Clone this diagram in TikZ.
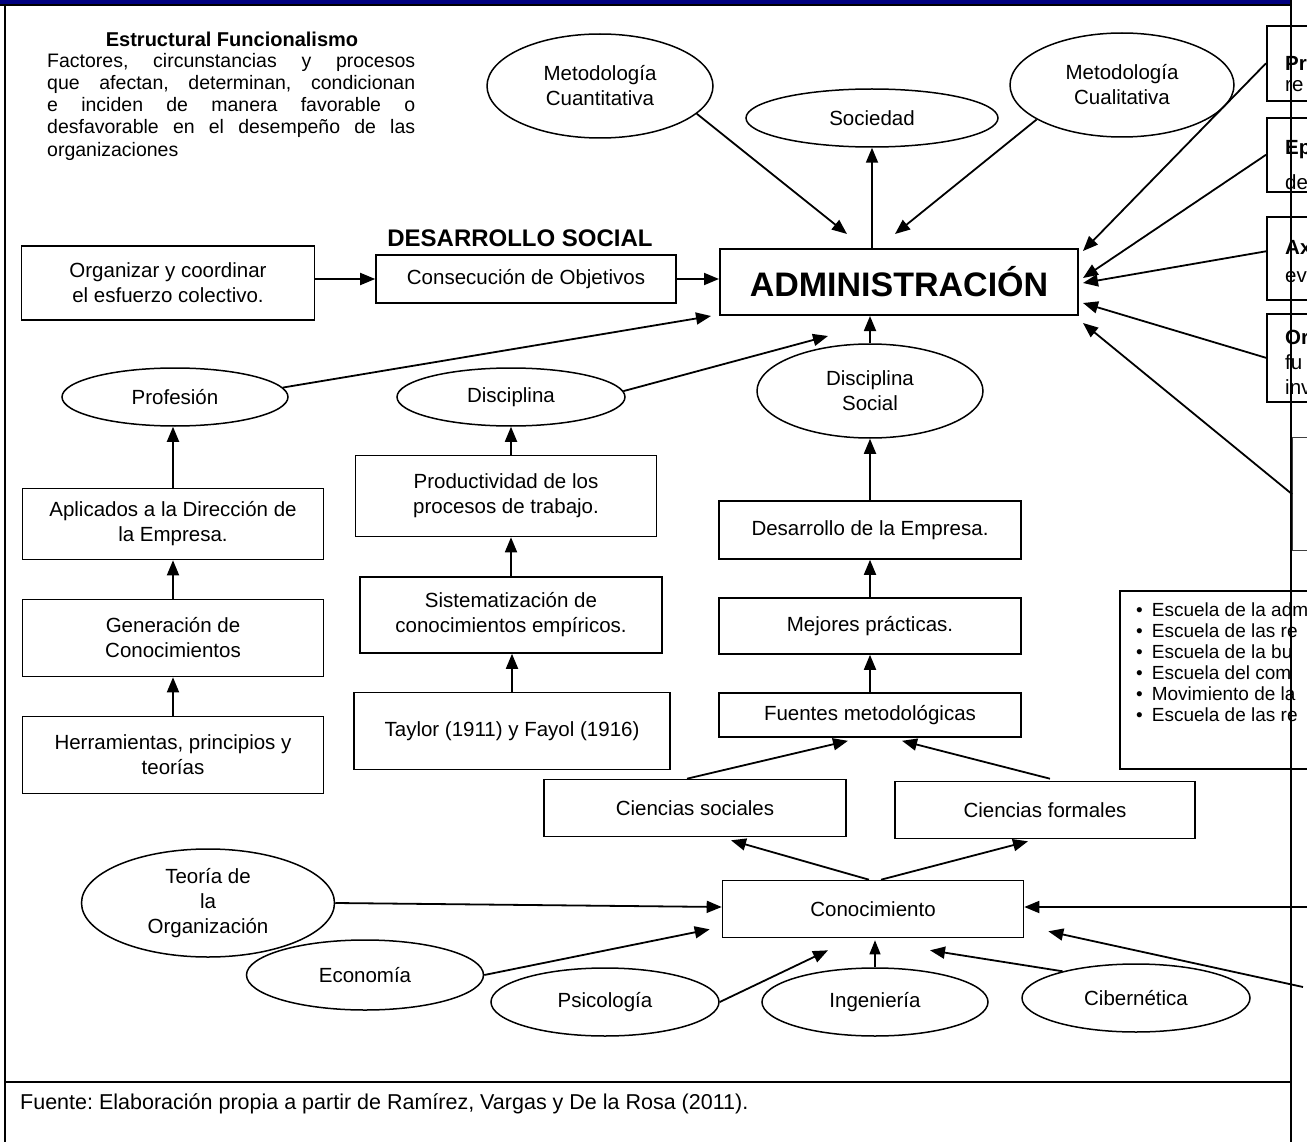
\documentclass[tikz,border=0pt]{standalone}
\usepackage{fontspec}
\setmainfont{Liberation Sans}
\usetikzlibrary{arrows.meta,shapes.geometric,calc}
\definecolor{barnavy}{RGB}{0,0,128}
\newcommand\fsmain{\fontsize{20.5}{25}\selectfont}
\newcommand\fslist{\fontsize{19}{22}\selectfont}
\newcommand\fspar{\fontsize{19.5}{22.2}\selectfont}
\newcommand\jline[1]{\makebox[368pt][s]{#1}}
\begin{document}
\frenchspacing
\begin{tikzpicture}[x=1pt,y=-1pt,
  box/.style={draw, line width=1.6pt, align=center, font=\fsmain, inner sep=2pt},
  oval/.style={draw, ellipse, line width=1.5pt, align=center, font=\fsmain, inner sep=0pt},
  panel/.style={draw, line width=1.6pt, inner sep=0pt, anchor=north west},
  lbl/.style={anchor=west, font=\fsmain, inner sep=0pt},
  item/.style={anchor=west, font=\fslist, inner sep=0pt},
  arr/.style={line width=1.8pt, -{Triangle[length=15pt,width=12pt]}},
  thinarr/.style={line width=1.1pt, -{Triangle[length=14pt,width=11pt]}},
  frame/.style={line width=2.2pt}]
\useasboundingbox (0,0) rectangle (1307,1142);
\clip (0,0) rectangle (1307,1142);

% ---- heading block, top left
\node[font=\bfseries\fontsize{20}{24}\selectfont, inner sep=0pt] (ttl) at (232,39) {Estructural Funcionalismo};
\node[anchor=north west, font=\fspar, align=left, inner sep=0pt] (par) at (47,53)
  {\jline{Factores, circunstancias y procesos}\\
   \jline{que afectan, determinan, condicionan}\\
   \jline{e inciden de manera favorable o}\\
   \jline{desfavorable en el desempeño de las}\\
   organizaciones};
\node[font=\bfseries\fontsize{24}{28}\selectfont, inner sep=0pt] (des) at (520,238) {DESARROLLO SOCIAL};

% ---- central node
\node[box, line width=2pt, minimum width=358, minimum height=66, font=\bfseries\fontsize{34}{40}\selectfont] (adm) at (899,282) {ADMINISTRACIÓN};

% ---- upper ellipses
\node[oval, minimum width=226, minimum height=104] (mcuant) at (600,86) {Metodología\\Cuantitativa};
\node[oval, minimum width=252, minimum height=58] (soc) at (872,118) {Sociedad};
\node[oval, minimum width=224, minimum height=104] (mcual) at (1122,85) {Metodología\\Cualitativa};

% ---- left chain
\node[box, minimum width=293, minimum height=74] (org) at (168,283) {Organizar y coordinar\\el esfuerzo colectivo.};
\node[box, minimum width=300, minimum height=48] (cons) at (526,279) {Consecución de Objetivos};
\node[oval, minimum width=226, minimum height=58] (prof) at (175,397) {Profesión};
\node[oval, minimum width=228, minimum height=58] (disc) at (511,397) {Disciplina};
\node[oval, minimum width=226, minimum height=94] (dsoc) at (870,391) {Disciplina\\Social};

\node[box, minimum width=301, minimum height=71] (apl) at (173,524) {Aplicados a la Dirección de\\la Empresa.};
\node[box, minimum width=301, minimum height=77] (gen) at (173,638) {Generación de\\Conocimientos};
\node[box, minimum width=301, minimum height=77] (her) at (173,755) {Herramientas, principios y\\teorías};

\node[box, minimum width=301, minimum height=81] (prod) at (506,496) {Productividad de los\\procesos de trabajo.};
\node[box, minimum width=302, minimum height=76] (sist) at (511,615) {Sistematización de\\conocimientos empíricos.};
\node[box, minimum width=316, minimum height=77] (tay) at (512,731) {Taylor (1911) y Fayol (1916)};

\node[box, minimum width=302, minimum height=58] (desa) at (870,530) {Desarrollo de la Empresa.};
\node[box, minimum width=302, minimum height=56] (mej) at (870,626) {Mejores prácticas.};
\node[box, minimum width=302, minimum height=44] (fue) at (870,715) {Fuentes metodológicas};

\node[box, minimum width=302, minimum height=57] (csoc) at (695,808) {Ciencias sociales};
\node[box, minimum width=300, minimum height=57] (cfor) at (1045,810) {Ciencias formales};
\node[box, minimum width=301, minimum height=57] (con) at (873,909) {Conocimiento};

% ---- lower ellipses
\node[oval, minimum width=253, minimum height=108] (teo) at (208,903) {Teoría de\\la\\Organización};
\node[oval, minimum width=237, minimum height=70] (eco) at (365,975) {Economía};
\node[oval, minimum width=228, minimum height=68] (psi) at (605,1002) {Psicología};
\node[oval, minimum width=226, minimum height=68] (ing) at (875,1002) {Ingeniería};
\node[oval, minimum width=228, minimum height=68] (cib) at (1136,998) {Cibernética};

% ---- panels running off the right edge
\node[panel, minimum width=160, minimum height=75] (prb) at (1266,25) {};
\node[panel, minimum width=160, minimum height=74] (epb) at (1266,117) {};
\node[panel, minimum width=160, minimum height=83] (axb) at (1266,216) {};
\node[panel, minimum width=160, minimum height=88] (orb) at (1266,313) {};
\node[panel, line width=1.2pt, draw=black!75, minimum width=160, minimum height=113] (bfive) at (1292,437) {};
\node[lbl] (prt) at (1285,63) {\textbf{Pr}};
\node[lbl] (prs) at (1285,86) {re};
\node[lbl] (ept) at (1285,150) {\textbf{Ep}};
\node[lbl] (eps) at (1285,182) {de};
\node[lbl] (axt) at (1285,247) {\textbf{Ax}};
\node[lbl] (axs) at (1285,277) {ev};
\node[lbl] (ort) at (1285,337) {\textbf{Or}};
\node[lbl] (ors) at (1285,362) {fu};
\node[lbl] (orv) at (1285,387) {inv};

\node[panel, minimum width=220, minimum height=178] (esc) at (1119,590) {};
\node[item] (e1) at (1136,610) {\textbullet\hspace{9pt}Escuela de la adm};
\node[item] (e2) at (1136,631) {\textbullet\hspace{9pt}Escuela de las re};
\node[item] (e3) at (1136,652) {\textbullet\hspace{9pt}Escuela de la bu};
\node[item] (e4) at (1136,673) {\textbullet\hspace{9pt}Escuela del com};
\node[item] (e5) at (1136,694) {\textbullet\hspace{9pt}Movimiento de la};
\node[item] (e6) at (1136,715) {\textbullet\hspace{9pt}Escuela de las re};

% ---- connectors into ADMINISTRACIÓN
\draw[arr] (mcuant.-16) -- ($(adm.north)+(-52,-14)$);
\draw[arr] (soc.south |- adm.north) -- (soc.south);
\draw[arr] (mcual.202) -- ($(adm.north)+(-4,-14)$);
\draw[arr] (prb.west) -- ($(adm.north east)+(4,3)$);
\draw[arr] (epb.west) -- ($(adm.east)+(4,-4)$);
\draw[arr] ($(axb.west)+(0,-7)$) -- ($(adm.east)+(4,1)$);
\draw[arr] (orb.west) -- ($(adm.east)+(4,21)$);
\draw[arr] (bfive.west) -- ($(adm.south east)+(4,7)$);
\draw[arr] (org.east |- cons.west) -- (cons.west);
\draw[arr] (cons.east) -- (cons.east -| adm.west);
\draw[arr] (prof.5) -- ($(adm.south west)+(-8,0)$);
\draw[arr] (disc.3) -- ($(adm.south)+(-71,20)$);
\draw[arr] (dsoc.north) -- (dsoc.north |- adm.south);

% ---- vertical chains
\draw[arr] (apl.north) -- (apl.north |- prof.south);
\draw[arr] (gen.north) -- (gen.north |- apl.south);
\draw[arr] (her.north) -- (her.north |- gen.south);
\draw[arr] (prod.north -| disc.south) -- (disc.south);
\draw[arr] (sist.north) -- (sist.north |- prod.south);
\draw[arr] (tay.north) -- (tay.north |- sist.south);
\draw[arr] (desa.north) -- (desa.north |- dsoc.south);
\draw[arr] (mej.north) -- (mej.north |- desa.south);
\draw[arr] (fue.north) -- (fue.north |- mej.south);

% ---- sciences and knowledge
\draw[arr] ($(csoc.north)+(-8,0)$) -- ($(fue.south)+(-22,3)$);
\draw[arr] ($(cfor.north)+(5,-2)$) -- ($(fue.south)+(32,3)$);
\draw[arr] ($(con.north)+(-4,0)$) -- ($(csoc.south)+(36,3)$);
\draw[arr] ($(con.north)+(8,0)$) -- ($(cfor.south)+(-17,2)$);
\draw[arr] (teo.east) -- ($(con.west)+(0,-2)$);
\draw[arr] (eco.east) -- ($(con.south west)+(-12,-9)$);
\draw[arr] (psi.east) -- ($(con.south)+(-45,12)$);
\draw[thinarr] (ing.north) -- ($(ing.north |- con.south)+(0,2)$);
\draw[arr] (cib.160) -- ($(con.south)+(57,12)$);
\coordinate (rin) at (1312,907);
\coordinate (rlow) at (1303,987);
\draw[arr] (rin) -- (con.east |- rin);
\draw[arr] (rlow) -- ($(con.south east)+(24,-7)$);

% ---- footer
\node[anchor=west, font=\fontsize{21.5}{26}\selectfont, inner sep=0pt] (src) at (20,1104)
  {Fuente: Elaboración propia a partir de Ramírez, Vargas y De la Rosa (2011).};

% ---- page frame
\fill[barnavy] (0,0) rectangle (1291,4.5);
\draw[frame] (0,5) -- (1291,5);
\draw[frame] (5,5) -- (5,1142);
\draw[frame] (1291,0) -- (1291,1142);
\draw[frame] (5,1082) -- (1291,1082);
\end{tikzpicture}
\end{document}
